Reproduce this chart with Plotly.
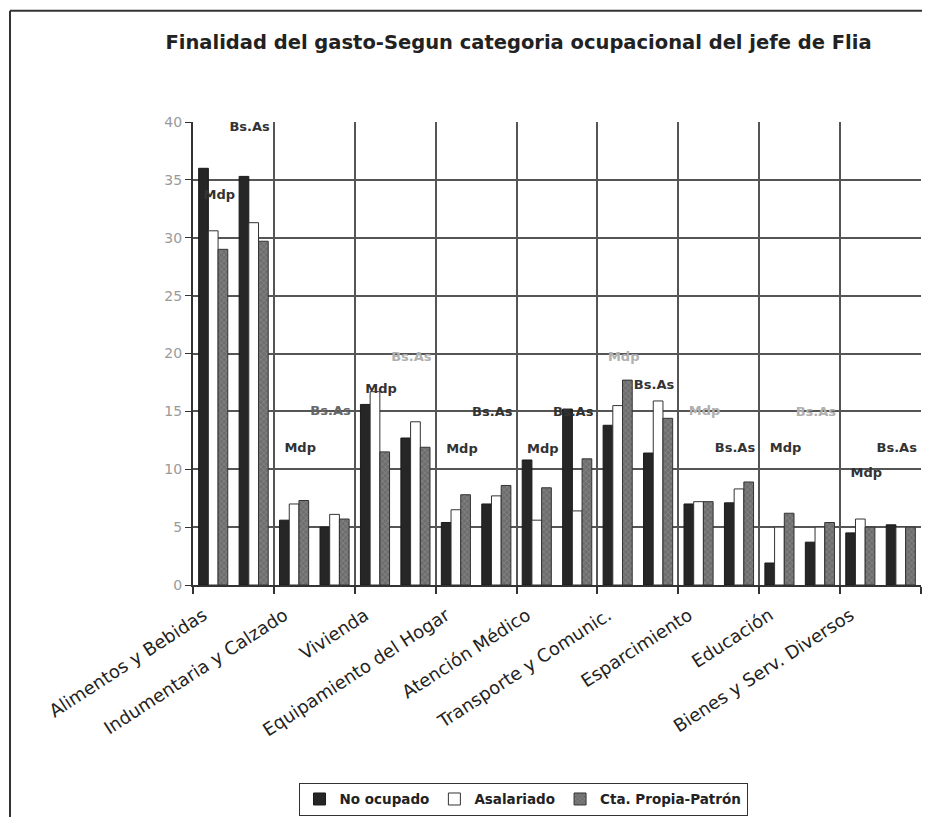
import plotly.graph_objects as go

categorias = ["Alimentos y Bebidas", "Indumentaria y Calzado", "Vivienda",
              "Equipamiento del Hogar", "Atención Médico", "Transporte y Comunic.",
              "Esparcimiento", "Educación", "Bienes y Serv. Diversos"]
ciudades = ["Mdp", "Bs.As"]

# one value per (categoria, ciudad) slot: Mdp, Bs.As, Mdp, Bs.As, ...
no_ocupado = [36.0, 35.3, 5.6, 5.0, 15.6, 12.7, 5.4, 7.0, 10.8, 15.2,
              13.8, 11.4, 7.0, 7.1, 1.9, 3.7, 4.5, 5.2]
asalariado = [30.6, 31.3, 7.0, 6.1, 16.7, 14.1, 6.5, 7.7, 5.6, 6.4,
              15.5, 15.9, 7.2, 8.3, 5.0, 5.0, 5.7, 5.0]
cta_propia = [29.0, 29.7, 7.3, 5.7, 11.5, 11.9, 7.8, 8.6, 8.4, 10.9,
              17.7, 14.4, 7.2, 8.9, 6.2, 5.4, 5.0, 5.0]

# height at which each city label floats
etiqueta_y = [33.6, 39.5, 11.8, 15.0, 16.9, 19.6, 11.7, 14.9, 11.7, 14.9,
              19.6, 17.2, 15.0, 11.8, 11.8, 14.9, 9.6, 11.8]

y_ticks = [0, 5, 10, 15, 20, 25, 30, 35, 40]

n_slots = len(categorias) * len(ciudades)
slots = list(range(n_slots))
etiqueta_txt = [ciudades[i % 2] for i in slots]
etiqueta_x = [i + (0.15 if i % 2 == 0 else -0.1) for i in slots]
faded = {5, 10, 12, 15}
etiqueta_col = ["#b0b0b0" if i in faded else ("#666666" if i == 3 else "#333333") for i in slots]

FONT = "DejaVu Sans"

# page adds an 8px body margin: keep figure + margins inside the 930x825 window
W, H = 914, 809
L, R, T, B = 185, 1, 114, 229
PW, PH = W - L - R, H - T - B

fig = go.Figure()
fig.add_trace(go.Bar(x=slots, y=no_ocupado, name="No ocupado",
                     marker=dict(color="#262626", line=dict(color="#1a1a1a", width=1))))
fig.add_trace(go.Bar(x=slots, y=asalariado, name="Asalariado",
                     marker=dict(color="#ffffff", line=dict(color="#333333", width=1))))
fig.add_trace(go.Bar(x=slots, y=cta_propia, name="Cta. Propia-Patrón",
                     marker=dict(color="#6e6e6e", line=dict(color="#333333", width=1),
                                 pattern=dict(shape="x", fgcolor="#b5b5b5", bgcolor="#6e6e6e",
                                              size=4, solidity=0.25))))
fig.add_trace(go.Scatter(x=etiqueta_x, y=etiqueta_y, text=etiqueta_txt, mode="text",
                         textfont=dict(family=FONT, size=13, color=etiqueta_col, weight="bold"),
                         showlegend=False, hoverinfo="skip", cliponaxis=False))

cat_centers = [2 * i + 0.5 for i in range(len(categorias))]
cat_bounds = [2 * i - 0.5 for i in range(len(categorias) + 1)]

fig.update_layout(
    width=W, height=H,
    margin=dict(l=L, r=R, t=T, b=B),
    paper_bgcolor="white", plot_bgcolor="white",
    barmode="group", bargap=0.28, bargroupgap=0,
    title=dict(text="Finalidad del gasto-Segun categoria ocupacional del jefe de Flia",
               x=510.5 / W, xanchor="center", xref="container",
               y=1 - 34 / H, yanchor="middle", yref="container",
               font=dict(family=FONT, size=19.5, color="#222222", weight="bold")),
    font=dict(family=FONT, color="#222222"),
    legend=dict(orientation="h", x=(515 - L) / PW, xanchor="center",
                y=(T + PH - 779) / PH, yanchor="top",
                bordercolor="#333333", borderwidth=1, itemwidth=30,
                font=dict(family=FONT, size=13.5, color="#222222", weight="bold"),
                traceorder="normal"),
    shapes=[
        dict(type="line", xref="paper", yref="paper",
             x0=(2 - L) / PW, x1=(2 - L) / PW,
             y0=(T + PH - (H + 10)) / PH, y1=(T + PH - 2) / PH,
             line=dict(color="#333333", width=2)),
        dict(type="line", xref="paper", yref="paper",
             x0=(2 - L) / PW, x1=(W + 10 - L) / PW,
             y0=(T + PH - 2) / PH, y1=(T + PH - 2) / PH,
             line=dict(color="#333333", width=2)),
    ],
)

fig.update_xaxes(range=[-0.5, n_slots - 0.5], tickmode="array", tickvals=cat_centers,
                 ticktext=categorias, tickangle=-33, ticks="", showgrid=False,
                 showline=True, linecolor="#333333", linewidth=2, zeroline=False,
                 tickfont=dict(family=FONT, size=18, color="#222222"),
                 ticklabelshift=-30, ticklabelstandoff=11,
                 minor=dict(tickmode="array", tickvals=cat_bounds, ticks="outside",
                            ticklen=7, tickcolor="#333333", tickwidth=1.5,
                            showgrid=True, gridcolor="#555555", gridwidth=1.5))
fig.update_yaxes(range=[0, 40], tickmode="array", tickvals=y_ticks, ticks="outside",
                 ticklen=6, tickcolor="#333333", showgrid=False, zeroline=False,
                 showline=True, linecolor="#333333", linewidth=2,
                 tickfont=dict(family=FONT, size=14, color="#9a9a9a"),
                 minor=dict(tickmode="array", tickvals=y_ticks[1:-1], ticks="",
                            showgrid=True, gridcolor="#555555", gridwidth=1.5))

fig.write_html("out.html")
